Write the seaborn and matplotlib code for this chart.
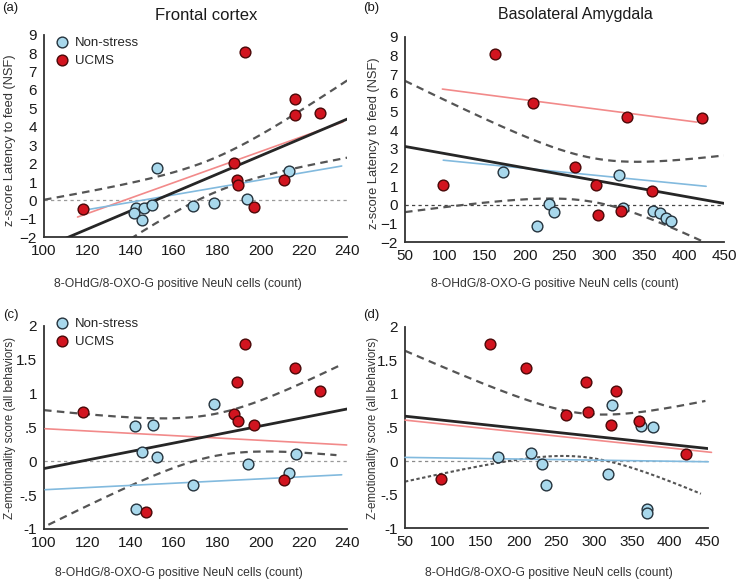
import numpy as np
import matplotlib
matplotlib.use("Agg")
import matplotlib.pyplot as plt
import seaborn as sns

sns.set_style("white")
plt.rcParams['font.family'] = ['Liberation Sans', 'DejaVu Sans']

# ---------------- data ----------------
groups = ["Non-stress", "UCMS"]

# (a) Frontal cortex - latency to feed (NSF)
a_ns_x = [152.0, 142.3, 146.3, 150.0, 141.5, 145.2, 168.6, 213.2, 193.8, 178.4]
a_ns_y = [1.78, -0.40, -0.40, -0.27, -0.70, -1.07, -0.32, 1.60, 0.08, -0.14]
a_uc_x = [118.1, 192.8, 215.8, 215.8, 227.5, 187.8, 189.1, 189.7, 210.9, 197.1]
a_uc_y = [-0.49, 8.07, 5.52, 4.64, 4.76, 2.06, 1.11, 0.84, 1.11, -0.34]

# (b) Basolateral amygdala - latency to feed (NSF)
b_ns_x = [173.0, 231.1, 236.6, 215.2, 318.5, 323.1, 361.5, 370.3, 377.5, 383.8]
b_ns_y = [1.77, 0.05, -0.36, -1.11, 1.59, -0.18, -0.32, -0.41, -0.71, -0.84]
b_uc_x = [162.9, 210.6, 97.3, 328.9, 422.3, 263.3, 289.6, 359.5, 292.5, 321.0]
b_uc_y = [8.08, 5.49, 1.09, 4.74, 4.65, 2.06, 1.09, 0.77, -0.54, -0.32]

# (c) Frontal cortex - Z-emotionality
c_ns_x = [141.9, 150.2, 145.2, 152.3, 168.6, 142.6, 178.6, 216.1, 194.0, 213.2]
c_ns_y = [0.52, 0.53, 0.13, 0.06, -0.35, -0.71, 0.84, 0.11, -0.04, -0.18]
c_uc_x = [118.1, 147.1, 192.8, 215.8, 189.1, 227.5, 187.7, 189.7, 197.1, 210.9]
c_uc_y = [0.73, -0.75, 1.73, 1.38, 1.17, 1.04, 0.69, 0.59, 0.54, -0.27]

# (d) Basolateral amygdala - Z-emotionality
d_ns_x = [172.5, 216.1, 231.0, 236.3, 323.1, 361.8, 378.1, 318.6, 370.2, 370.2]
d_ns_y = [0.06, 0.12, -0.05, -0.36, 0.84, 0.52, 0.51, -0.19, -0.72, -0.77]
d_uc_x = [162.3, 209.5, 97.1, 289.2, 328.4, 262.7, 291.8, 321.8, 359.2, 421.7]
d_uc_y = [1.74, 1.39, -0.27, 1.17, 1.05, 0.68, 0.73, 0.54, 0.60, 0.10]

# group trend lines as drawn in the figure (x ends, y ends)
a_ns_trend_x, a_ns_trend_y = [120.0, 237.4], [-0.50, 1.87]
a_uc_trend_x, a_uc_trend_y = [115.5, 238.0], [-0.90, 4.26]
b_ns_trend_x, b_ns_trend_y = [98.0, 427.7], [2.40, 1.00]
b_uc_trend_x, b_uc_trend_y = [96.9, 416.0], [6.21, 4.44]
c_ns_trend_x, c_ns_trend_y = [100.5, 237.4], [-0.42, -0.20]
c_uc_trend_x, c_uc_trend_y = [100.5, 239.7], [0.48, 0.24]
d_ns_trend_x, d_ns_trend_y = [50.0, 450.8], [0.055, -0.01]
d_uc_trend_x, d_uc_trend_y = [50.0, 455.0], [0.61, 0.13]

titles = ["Frontal cortex", "Basolateral Amygdala"]
panel_letters = ["(a)", "(b)", "(c)", "(d)"]
xlabel = "8-OHdG/8-OXO-G positive NeuN cells (count)"
ylabel_top = "z-score Latency to feed (NSF)"
ylabel_bottom = "Z-emotionality score (all behaviors)"
fc_xticks = [100, 120, 140, 160, 180, 200, 220, 240]
bla_xticks = [50, 100, 150, 200, 250, 300, 350, 400, 450]
nsf_yticks = [-2, -1, 0, 1, 2, 3, 4, 5, 6, 7, 8, 9]
emo_yticks = [-1, -0.5, 0, 0.5, 1, 1.5, 2]
emo_yticklabels = ["-1", "-.5", "0", ".5", "1", "1.5", "2"]

T95_DF18 = 2.1009  # Student t quantile, n = 20

# ---------------- style ----------------
NS_FILL, NS_EDGE = "#a8d8ec", "#25333d"
UC_FILL, UC_EDGE = "#d2141f", "#4a0808"
NS_LINE, UC_LINE = "#82bade", "#f28a8a"
W, H = 737, 582

fig = plt.figure(figsize=(W / 100, H / 100), dpi=100)
fig.patch.set_facecolor("white")


def rect(x0, x1, ytop, ybot):
    return [x0 / W, 1 - ybot / H, (x1 - x0) / W, (ybot - ytop) / H]


def fpos(x, y):
    return x / W, 1 - y / H


def ols_ci(x, y, xs):
    x = np.asarray(x, float)
    y = np.asarray(y, float)
    n = len(x)
    b, a = np.polyfit(x, y, 1)
    resid = y - (a + b * x)
    s = np.sqrt(np.sum(resid ** 2) / (n - 2))
    sxx = np.sum((x - x.mean()) ** 2)
    se = s * np.sqrt(1 / n + (xs - x.mean()) ** 2 / sxx)
    yhat = a + b * xs
    return yhat, yhat - T95_DF18 * se, yhat + T95_DF18 * se


panels = [
    dict(rect=rect(44, 347.3, 34.7, 237.3), xlim=(100, 240), ylim=(-2, 9),
         xticks=fc_xticks, yticks=nsf_yticks, ytl=None,
         ns=(a_ns_x, a_ns_y), uc=(a_uc_x, a_uc_y),
         ns_tr=(a_ns_trend_x, a_ns_trend_y), uc_tr=(a_uc_trend_x, a_uc_trend_y),
         line_rng=(100, 240), up_rng=(100, 240), lo_rng=(100, 240), lo_short=False,
         zero_col="#9a9a9a"),
    dict(rect=rect(405, 723.9, 37, 242.3), xlim=(50, 450), ylim=(-2, 9),
         xticks=bla_xticks, yticks=nsf_yticks, ytl=None,
         ns=(b_ns_x, b_ns_y), uc=(b_uc_x, b_uc_y),
         ns_tr=(b_ns_trend_x, b_ns_trend_y), uc_tr=(b_uc_trend_x, b_uc_trend_y),
         line_rng=(50, 450), up_rng=(50, 450), lo_rng=(50, 450), lo_short=False,
         zero_col="#444444"),
    dict(rect=rect(44, 347.3, 325.7, 529), xlim=(100, 240), ylim=(-1, 2),
         xticks=fc_xticks, yticks=emo_yticks, ytl=emo_yticklabels,
         ns=(c_ns_x, c_ns_y), uc=(c_uc_x, c_uc_y),
         ns_tr=(c_ns_trend_x, c_ns_trend_y), uc_tr=(c_uc_trend_x, c_uc_trend_y),
         line_rng=(100, 240), up_rng=(100, 237), lo_rng=(102, 235), lo_short=False,
         zero_col="#9a9a9a"),
    dict(rect=rect(405, 707.7, 326.7, 528.3), xlim=(50, 450), ylim=(-1, 2),
         xticks=bla_xticks, yticks=emo_yticks, ytl=emo_yticklabels,
         ns=(d_ns_x, d_ns_y), uc=(d_uc_x, d_uc_y),
         ns_tr=(d_ns_trend_x, d_ns_trend_y), uc_tr=(d_uc_trend_x, d_uc_trend_y),
         line_rng=(50, 452), up_rng=(50, 447), lo_rng=(50, 441), lo_short=True,
         zero_col="#8a8a8a"),
]

for i, p in enumerate(panels):
    ax = fig.add_axes(p["rect"])
    ax.set_facecolor("white")
    ax.set_xlim(*p["xlim"])
    ax.set_ylim(*p["ylim"])

    # zero reference line
    ax.plot(p["xlim"], [0, 0], color=p["zero_col"], lw=0.9, dashes=(2.6, 2.6), zorder=1)

    # overall regression and 95% CI
    all_x = list(p["ns"][0]) + list(p["uc"][0])
    all_y = list(p["ns"][1]) + list(p["uc"][1])
    xs = np.linspace(*p["line_rng"], 200)
    yhat, _, _ = ols_ci(all_x, all_y, xs)
    xu = np.linspace(*p["up_rng"], 200)
    _, _, up = ols_ci(all_x, all_y, xu)
    xl = np.linspace(*p["lo_rng"], 200)
    _, lo, _ = ols_ci(all_x, all_y, xl)
    ax.plot(xu, up, color="#555555", lw=1.6, dashes=(3.4, 2.4), zorder=2)
    if p["lo_short"]:
        ax.plot(xl, lo, color="#555555", lw=1.5, dashes=(1.6, 1.2), zorder=2)
    else:
        ax.plot(xl, lo, color="#555555", lw=1.6, dashes=(3.4, 2.4), zorder=2)

    # group trend lines
    ax.plot(p["uc_tr"][0], p["uc_tr"][1], color=UC_LINE, lw=1.2, zorder=3, clip_on=False)
    ax.plot(p["ns_tr"][0], p["ns_tr"][1], color=NS_LINE, lw=1.2, zorder=3, clip_on=False)
    ax.plot(xs, yhat, color="#262626", lw=2.0, zorder=4)

    # points
    sns.scatterplot(x=p["ns"][0], y=p["ns"][1], color=NS_FILL, edgecolor=NS_EDGE,
                    linewidth=1.0, s=60, ax=ax, zorder=5, label=groups[0],
                    legend=False, clip_on=False)
    sns.scatterplot(x=p["uc"][0], y=p["uc"][1], color=UC_FILL, edgecolor=UC_EDGE,
                    linewidth=1.0, s=60, ax=ax, zorder=5, label=groups[1],
                    legend=False, clip_on=False)

    sns.despine(ax=ax)
    for side in ("left", "bottom"):
        ax.spines[side].set_color("#333333")
        ax.spines[side].set_linewidth(1.3)
    ax.set_xticks(p["xticks"])
    ax.set_yticks(p["yticks"])
    if p["ytl"] is not None:
        ax.set_yticklabels(p["ytl"])
    ax.tick_params(axis="both", direction="out", length=3, width=1.0, color="#333333",
                   labelsize=11, labelcolor="#1a1a1a", pad=2)
    ax.set_xlabel("")
    ax.set_ylabel("")

    if i in (0, 2):
        h, l = ax.get_legend_handles_labels()
        bx, by = fpos(55, 36.5 if i == 0 else 317.5)
        ax.legend(h, l, loc="upper left", bbox_to_anchor=(bx, by),
                  bbox_transform=fig.transFigure, frameon=False, fontsize=9.5,
                  handlelength=1.0, handletextpad=0.5, labelspacing=0.45,
                  borderpad=0, borderaxespad=0, scatterpoints=1)

# titles
fig.text(*fpos(206, 15), titles[0], ha="center", va="center", fontsize=12, color="#1a1a1a")
fig.text(*fpos(575, 15), titles[1], ha="center", va="center", fontsize=11.5, color="#1a1a1a")

# panel letters
for (px, py), lab in zip([(2, 8), (363, 8), (3, 315), (363, 315)], panel_letters):
    fig.text(*fpos(px, py), lab, ha="left", va="center", fontsize=9.5, color="#1a1a1a")

# axis labels
for (px, py) in [(178, 284), (555, 284), (179, 573), (549, 573)]:
    fig.text(*fpos(px, py), xlabel, ha="center", va="center", fontsize=8.7, color="#333333")
for (px, py), lab, fs in [((10, 140), ylabel_top, 9.3), ((374, 143), ylabel_top, 9.3),
                          ((10, 428), ylabel_bottom, 8.4), ((373, 428), ylabel_bottom, 8.4)]:
    fig.text(*fpos(px, py), lab, ha="center", va="center", rotation=90,
             fontsize=fs, color="#333333")

fig.savefig("out.png", dpi=100, facecolor="white")
